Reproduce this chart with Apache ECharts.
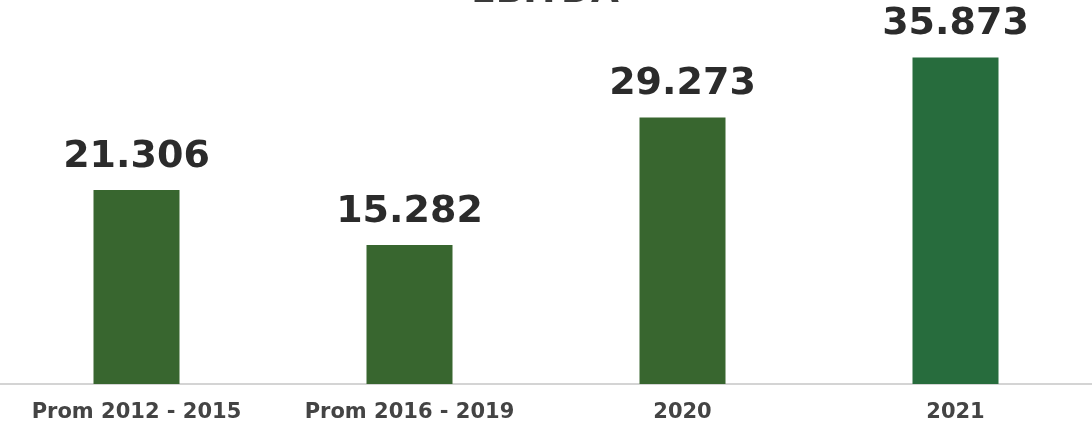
<!DOCTYPE html>
<html><head><meta charset="utf-8">
<script src="https://cdn.jsdelivr.net/npm/echarts@6/dist/echarts.min.js"></script>
<style>html,body{margin:0;padding:0;background:#fff}#c{width:1092px;height:427px}</style>
</head><body><div id="c"></div>
<script>
const categories = ['Prom 2012 - 2015', 'Prom 2016 - 2019', '2020', '2021'];
const values = [21306, 15282, 29273, 35873];
const barColors = ['#38662f', '#38662f', '#38662f', '#276c3d'];
const titleText = 'EBITDA';

const fmt = v => v.toLocaleString('de-DE');
const chart = echarts.init(document.getElementById('c'));
chart.setOption({
  animation: false,
  graphic: [{
    type: 'text', x: 545, y: 11, silent: true,
    style: {
      text: titleText, align: 'center', verticalAlign: 'bottom',
      font: 'bold 36px "DejaVu Sans"', fill: '#3a3a3a'
    }
  }],
  grid: {left: 0, right: 0, top: 20, bottom: 43},
  xAxis: {
    type: 'category', data: categories,
    axisLine: {lineStyle: {color: '#d4d4d4', width: 2}},
    axisTick: {show: false},
    axisLabel: {margin: 18, fontFamily: 'DejaVu Sans', fontWeight: 'bold', fontSize: 21, color: '#444444'}
  },
  yAxis: {type: 'value', min: 0, max: 40000, show: false},
  series: [{
    type: 'bar', barWidth: 86,
    data: values.map((v, i) => ({value: v, itemStyle: {color: barColors[i]}})),
    label: {
      show: true, position: 'top', distance: 14,
      formatter: p => fmt(p.value),
      fontFamily: 'DejaVu Sans', fontWeight: 'bold', fontSize: 38, color: '#2b2b2b'
    }
  }]
});
</script></body></html>
